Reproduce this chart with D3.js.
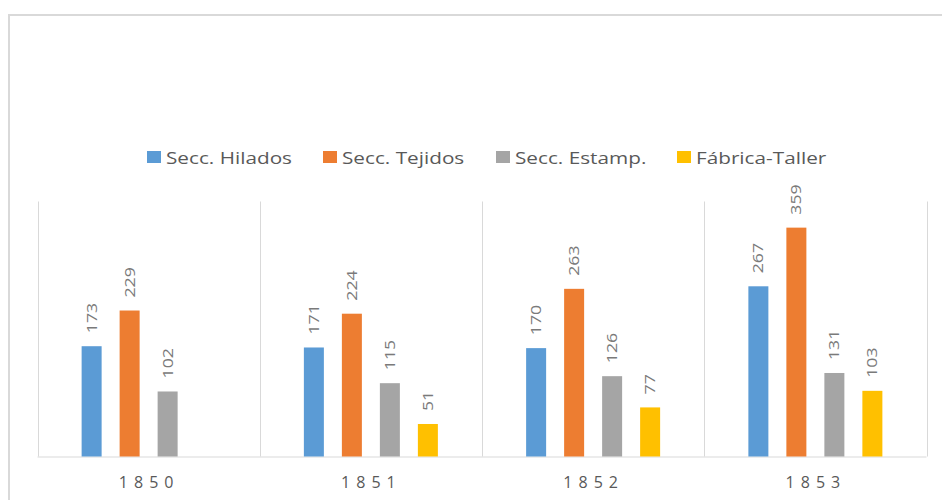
<!DOCTYPE html>
<html lang="es">
<head>
  <meta charset="utf-8" />
  <title>Secciones 1850-1853</title>
  <style>
    body {
      margin: 0;
      padding: 0;
      background: #fff;
      font-family: "Open Sans", "Noto Sans", sans-serif;
    }
    .grid line {
      stroke: #d9d9d9;
      stroke-width: 1px;
    }
    .lbl {
      font-size: 15px;
      fill: #7a7a7a;
    }
    .cat {
      font-size: 16px;
      fill: #595959;
      letter-spacing: 6px;
    }
    .leg text {
      font-size: 17px;
      fill: #595959;
    }
  </style>
  <script src="https://d3js.org/d3.v7.min.js"></script>
</head>
<body>
  <svg width="942" height="500"></svg>
  <script>
    const years = ["1850", "1851", "1852", "1853"];
    const seriesNames = ["Secc. Hilados", "Secc. Tejidos", "Secc. Estamp.", "Fábrica-Taller"];
    const hilados = [173, 171, 170, 267];
    const tejidos = [229, 224, 263, 359];
    const estamp = [102, 115, 126, 131];
    const fabrica = [null, 51, 77, 103];
    const colors = ["#5b9bd5", "#ed7d31", "#a5a5a5", "#ffc000"];

    const values = [hilados, tejidos, estamp, fabrica];

    const svg = d3.select("svg");

    // outer frame (only top and left edges are visible)
    svg.append("path")
      .attr("d", "M9,500 L9,15 L942,15")
      .attr("fill", "none")
      .attr("stroke", "#d9d9d9")
      .attr("stroke-width", 2);

    const groupW = 134; // 4 bars of 20 + 3 gaps of 18
    const x0 = d3.scaleBand().domain(years).range([37.5, 926.5]);
    const x1 = d3.scaleBand().domain(d3.range(4)).range([0, groupW]).paddingInner(18 / 38).paddingOuter(0);
    const y = d3.scaleLinear().domain([0, 400]).range([456.5, 201.5]);

    // vertical category separators + baseline
    const grid = svg.append("g").attr("class", "grid");
    const edges = years.map(d => x0(d)).concat([x0.range()[1]]);
    grid.selectAll("line.v")
      .data(edges)
      .join("line")
      .attr("class", "v")
      .attr("x1", d => Math.round(d) + 0.5)
      .attr("x2", d => Math.round(d) + 0.5)
      .attr("y1", y(400))
      .attr("y2", y(0));
    grid.append("line")
      .attr("x1", x0.range()[0])
      .attr("x2", x0.range()[1])
      .attr("y1", y(0) + 0.5)
      .attr("y2", y(0) + 0.5);

    const bars = [];
    years.forEach((yr, i) => {
      values.forEach((s, j) => {
        if (s[i] != null) bars.push({ yr, j, v: s[i] });
      });
    });

    const groupOffset = (x0.bandwidth() - groupW) / 2;
    const barX = d => x0(d.yr) + groupOffset + x1(d.j);

    svg.append("g")
      .selectAll("rect")
      .data(bars)
      .join("rect")
      .attr("x", barX)
      .attr("y", d => y(d.v))
      .attr("width", x1.bandwidth())
      .attr("height", d => y(0) - y(d.v))
      .attr("fill", d => colors[d.j]);

    // value labels, rotated, slightly stretched along the text
    svg.append("g")
      .selectAll("text")
      .data(bars)
      .join("text")
      .attr("class", "lbl")
      .attr("transform", d => {
        const cx = barX(d) + x1.bandwidth() / 2;
        return `translate(${cx + 5},${y(d.v) - 13}) rotate(-90) scale(1.18,1)`;
      })
      .text(d => d.v);

    svg.append("g")
      .selectAll("text")
      .data(years)
      .join("text")
      .attr("class", "cat")
      .attr("x", d => x0(d) + x0.bandwidth() / 2 + 0.5)
      .attr("y", 488)
      .attr("text-anchor", "middle")
      .text(d => d);

    // legend
    const legX = [147, 323, 496, 677];
    const leg = svg.append("g")
      .attr("class", "leg")
      .selectAll("g")
      .data(seriesNames)
      .join("g")
      .attr("transform", (d, i) => `translate(${legX[i]},151)`);
    leg.append("rect")
      .attr("width", 14)
      .attr("height", 12)
      .attr("fill", (d, i) => colors[i]);
    leg.append("text")
      .attr("transform", "translate(19,12.5) scale(1.22,1)")
      .text(d => d);
  </script>
</body>
</html>
